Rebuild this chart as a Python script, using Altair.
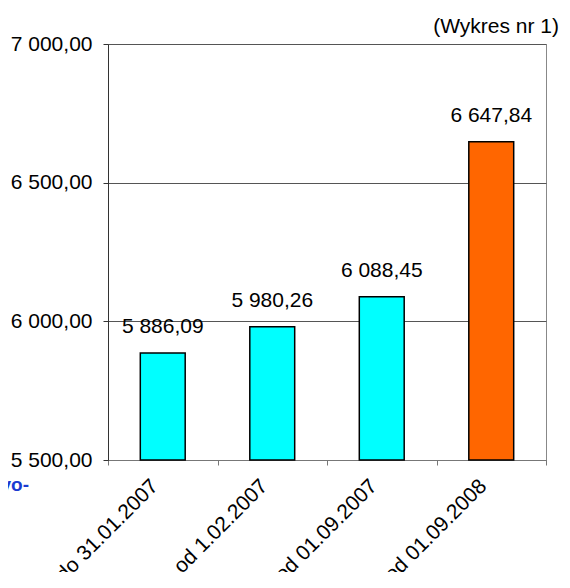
import altair as alt
import pandas as pd

categories = ["do 31.01.2007", "od 1.02.2007", "od 01.09.2007", "od 01.09.2008"]
values = [5886.09, 5980.26, 6088.45, 6647.84]
bar_colors = ["#00FFFF", "#00FFFF", "#00FFFF", "#FF6600"]
y_ticks = [5500, 6000, 6500, 7000]
y_domain = [5500, 7000]
chart_title = "(Wykres nr 1)"
side_text = "vo-"

FONT = "Liberation Sans"


def pl(v):
    return f"{v:,.2f}".replace(",", " ").replace(".", ",")


df = pd.DataFrame({
    "okres": categories,
    "wartosc": values,
    "baza": [y_domain[0]] * len(values),
    "kolor": bar_colors,
    "etykieta": [pl(v) for v in values],
})

x_enc = alt.X(
    "okres:N", sort=categories, title=None,
    scale=alt.Scale(paddingInner=0, paddingOuter=0),
    axis=alt.Axis(labelAngle=-45, tickBand="extent", labelFontSize=21, labelFont=FONT,
                  labelColor="black", domainColor="#777", tickColor="#777", tickSize=5,
                  labelPadding=10, labelOffset=-16, grid=False),
)
y_enc = alt.Y(
    "wartosc:Q", title=None,
    scale=alt.Scale(domain=y_domain, nice=False, zero=False),
    axis=alt.Axis(values=y_ticks,
                  labelExpr="replace(replace(format(datum.value, ',.2f'), ',', ' '), '.', ',')",
                  grid=True, gridColor="#555", gridWidth=1, domainColor="#333", tickColor="#333",
                  tickSize=5, labelPadding=11, labelFontSize=21, labelFont=FONT, labelColor="black"),
)

bars = alt.Chart(df).mark_bar(
    width=alt.RelativeBandSize(0.41), stroke="black", strokeWidth=1.5
).encode(x=x_enc, y=y_enc, y2="baza:Q", color=alt.Color("kolor:N", scale=None))

labels = alt.Chart(df).mark_text(
    dy=-20, baseline="alphabetic", fontSize=21, font=FONT, color="black"
).encode(x=alt.X("okres:N", sort=categories), y="wartosc:Q", text="etykieta:N")

title_mark = alt.Chart(pd.DataFrame({"t": [chart_title]})).mark_text(
    align="right", baseline="alphabetic", fontSize=21, font=FONT, color="black"
).encode(x=alt.value(451), y=alt.value(-11), text="t:N")

side = alt.Chart(pd.DataFrame({"t": [side_text]})).mark_text(
    align="right", baseline="alphabetic", fontSize=19, fontWeight="bold", font=FONT, color="#1a3bd1"
).encode(x=alt.value(-79), y=alt.value(447), text="t:N")

chart = alt.layer(bars, labels, title_mark, side).properties(
    width=438, height=416,
    autosize=alt.AutoSizeParams(type="none"),
    padding={"left": 100, "top": 36, "right": 14, "bottom": 112},
).configure_view(stroke="#888", strokeWidth=1)

chart.save("out.html", embed_options={"renderer": "svg", "actions": False})
